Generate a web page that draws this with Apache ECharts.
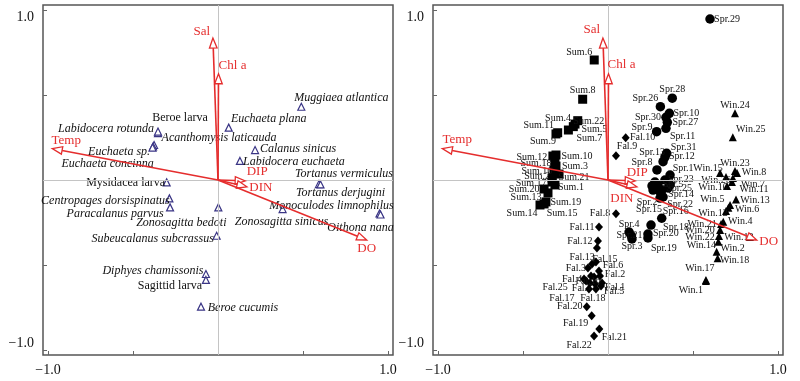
<!DOCTYPE html>
<html><head><meta charset="utf-8">
<script src="https://cdn.jsdelivr.net/npm/echarts@6/dist/echarts.min.js"></script>
<style>html,body{margin:0;padding:0;background:#fff}#c{width:800px;height:381px}</style>
</head><body><div id="c"></div>
<script>
// ---------- environmental vectors ----------
const envNames = ['Sal', 'Chl a', 'Temp', 'DIP', 'DIN', 'DO'];
const envX = [-0.03, 0.003, -0.975, 0.16, 0.17, 0.875];
const envY = [0.835, 0.625, 0.185, -0.005, -0.04, -0.353];

// ---------- species (left panel) ----------
const speciesNames = ['Muggiaea atlantica','Euchaeta plana','Beroe larva','Labidocera rotunda','Acanthomysis laticauda','Euchaeta sp.','Euchaeta concinna','Calanus sinicus','Labidocera euchaeta','Tortanus vermiculus','Tortanus derjugini','Mysidacea larva','Centropages dorsispinatus','Paracalanus parvus','Zonosagitta bedoti','Zonosagitta sinicus','Monoculodes limnophilus','Oithona nana','Subeucalanus subcrassus','Diphyes chamissonis','Sagittid larva','Beroe cucumis'];
const speciesX = [0.49, 0.063, -0.353, -0.353, -0.376, -0.382, -0.385, 0.218, 0.129, 0.594, 0.603, -0.302, -0.286, -0.282, 0.002, 0.38, 0.95, 0.956, -0.008, -0.071, -0.071, -0.1];
const speciesY = [0.431, 0.308, 0.276, 0.285, 0.206, 0.197, 0.191, 0.176, 0.112, -0.024, -0.026, -0.014, -0.108, -0.161, -0.161, -0.171, -0.197, -0.203, -0.328, -0.553, -0.588, -0.745];

// ---------- samples (right panel) ----------
const sumNames = ['Sum.1','Sum.2','Sum.3','Sum.4','Sum.5','Sum.6','Sum.7','Sum.8','Sum.9','Sum.10','Sum.11','Sum.12','Sum.13','Sum.14','Sum.15','Sum.16','Sum.17','Sum.18','Sum.19','Sum.20','Sum.21','Sum.22'];
const sumX = [-0.312,-0.329,-0.306,-0.194,-0.204,-0.081,-0.233,-0.149,-0.306,-0.306,-0.296,-0.324,-0.353,-0.4,-0.376,-0.318,-0.329,-0.312,-0.365,-0.376,-0.288,-0.178];
const sumY = [-0.029,0.012,0.082,0.329,0.314,0.706,0.294,0.475,0.271,0.147,0.278,0.141,-0.076,-0.147,-0.141,0.059,-0.012,0.1,-0.129,-0.053,0.035,0.349];

const sprNames = ['Spr.1','Spr.2','Spr.3','Spr.4','Spr.5','Spr.6','Spr.7','Spr.8','Spr.9','Spr.10','Spr.11','Spr.12','Spr.13','Spr.14','Spr.15','Spr.16','Spr.17','Spr.18','Spr.19','Spr.20','Spr.21','Spr.22','Spr.23','Spr.24','Spr.25','Spr.26','Spr.27','Spr.28','Spr.29','Spr.30','Spr.31'];
const sprX = [0.365,0.265,0.141,0.124,0.276,0.294,0.259,0.288,0.341,0.361,0.286,0.335,0.324,0.353,0.306,0.316,0.306,0.253,0.235,0.235,0.138,0.324,0.335,0.365,0.318,0.308,0.349,0.378,0.6,0.341,0.345];
const sprY = [0.029,-0.059,-0.347,-0.306,-0.012,-0.029,-0.035,0.059,0.304,0.392,0.284,0.135,0.108,-0.047,-0.106,-0.225,-0.071,-0.265,-0.341,-0.318,-0.329,-0.1,0,-0.029,-0.059,0.431,0.339,0.481,0.947,0.369,0.157];

const falNames = ['Fal.1','Fal.2','Fal.3','Fal.4','Fal.5','Fal.6','Fal.7','Fal.8','Fal.9','Fal.10','Fal.11','Fal.12','Fal.13','Fal.14','Fal.15','Fal.16','Fal.17','Fal.18','Fal.19','Fal.20','Fal.21','Fal.22','Fal.23','Fal.24','Fal.25'];
const falX = [-0.035,-0.047,-0.118,-0.141,-0.041,-0.053,-0.106,0.047,0.047,0.104,-0.053,-0.059,-0.094,-0.065,-0.071,-0.082,-0.112,-0.071,-0.096,-0.125,-0.051,-0.082,-0.1,-0.076,-0.129];
const falY = [-0.606,-0.565,-0.518,-0.582,-0.624,-0.535,-0.606,-0.198,0.143,0.249,-0.276,-0.359,-0.494,-0.4,-0.482,-0.571,-0.641,-0.641,-0.798,-0.745,-0.876,-0.918,-0.565,-0.612,-0.594];

const winNames = ['Win.1','Win.2','Win.4','Win.5','Win.6','Win.7','Win.8','Win.10','Win.11','Win.12','Win.13','Win.14','Win.15','Win.17','Win.18','Win.19','Win.20','Win.21','Win.22','Win.23','Win.24','Win.25','Win.26'];
const winX = [0.576,0.639,0.678,0.708,0.718,0.735,0.759,0.7,0.729,0.694,0.753,0.649,0.659,0.576,0.645,0.835,0.659,0.665,0.653,0.747,0.747,0.734,0.694];
const winY = [-0.594,-0.422,-0.245,-0.163,-0.147,0.012,0.041,-0.035,-0.012,-0.182,-0.114,-0.363,0.041,-0.588,-0.461,-0.335,-0.294,-0.259,-0.329,0.053,0.392,0.251,0.018];

const tickValues = [-1, -0.5, 0, 0.5, 1];
const labelValues = [-1, 1];

// ---------- label placement (pixel offsets of label centre from its mark) ----------
const speciesLabelOffset = [[40,-9],[40,-9],[22,-15],[-52,-3],[65,-7],[-34,5],[-45,16],[43,-1],[54,1],[25,-10],[20,8],[-41,0],[-64,2],[-55,6],[-37,15],[-1,13],[-48,-8],[-20,13],[-64,3],[-53,-3],[-36,6],[42,1]];
const sumLabelOffset = [[16,2],[-15,-2],[19,0],[-17,-6],[21,3],[-15,-8],[21,8],[0,-9],[-13,7],[21,1],[-19,-7],[-21,1],[-22,4],[-18,8],[18,9],[-17,1],[-21,1],[-19,0],[20,0],[-20,0],[15,3],[11,1]];
const sprLabelOffset = [[13,-7],[-6,12],[0,7],[0,-8],[18,2],null,null,[-15,-8],[-24,-1],[17,0],[26,5],[17,-1],[-11,-9],[13,6],[-11,11],[14,-7],null,[25,2],[16,10],[18,-1],[-2,-1],[17,7],[16,-1],null,[17,-2],[-15,-8],[18,0],[0,-9],[17,0],[-18,0],[17,-6]];
const falLabelOffset = [[13,4],[15,-2],[-12,0],[-12,0],[13,5],[14,-6],[-8,5],[-16,0],[11,-9],[17,0],[-17,0],[-18,0],[-10,-7],null,[9,-3],[-6,4],[-27,9],[-3,9],[-16,8],[-17,0],[15,8],[-15,9],null,null,[-31,6]];
const winLabelOffset = [[-15,9],[16,-3],[17,0],[-16,-8],[17,4],[20,6],[17,-1],[-14,1],[22,7],[-13,2],[19,1],[-17,4],[-12,-5],[-6,-12],[17,2],[-11,0],[-20,0],[-19,0],[-19,1],[0,-8],[0,-8],[18,-8],[-10,3]];
const envLabelOffsetLeft = [[-11,-6],[14,-8],[14,-8],[12,-9],[14,1],[0,9]];
const envLabelOffsetRight = [[-11,-8],[13,-9],[15,-9],[2,-8],[-15,12],[12,2]];

const RED = '#e52d2d';
const SERIF = '"Liberation Serif", "Times New Roman", serif';

function grid(left) {
  return { left: left, top: 5, width: 350, height: 350, show: true, borderColor: '#555', borderWidth: 1.5, backgroundColor: '#fff' };
}
function xAxis(g) {
  return {
    gridIndex: g, type: 'value', min: -1.0294, max: 1.0294,
    axisLine: { show: false, onZero: false },
    splitLine: { show: false },
    axisTick: { show: true, inside: true, length: 4, customValues: tickValues, lineStyle: { color: '#666' } },
    axisLabel: { customValues: labelValues, margin: 8, fontFamily: SERIF, fontSize: 14, color: '#111',
      formatter: v => (v < 0 ? '\u22121.0' : '1.0') }
  };
}
function yAxis(g) {
  return {
    gridIndex: g, type: 'value', min: -1.0294, max: 1.0294,
    axisLine: { show: false, onZero: false },
    splitLine: { show: false },
    axisTick: { show: true, inside: true, length: 4, customValues: tickValues, lineStyle: { color: '#666' } },
    axisLabel: { customValues: labelValues, margin: 9, color: '#111',
      formatter: v => (v < 0 ? '{b|\u22121.0}' : '{t|1.0}'),
      rich: {
        t: { fontFamily: SERIF, fontSize: 14, color: '#111', padding: [14, 0, 0, 0] },
        b: { fontFamily: SERIF, fontSize: 14, color: '#111', padding: [0, 0, 14, 0] }
      } }
  };
}
function zeroLines() {
  return { silent: true, symbol: 'none', animation: false, label: { show: false },
    lineStyle: { color: '#c4c4c4', width: 1, type: 'solid' },
    data: [{ xAxis: 0 }, { yAxis: 0 }] };
}
function pts(names, xs, ys, offs, extra) {
  return names.map((n, i) => {
    const o = offs[i];
    const item = { name: n, value: [xs[i], ys[i]] };
    item.label = o ? Object.assign({ offset: o }, extra ? extra(n) : {}) : { show: false };
    return item;
  });
}
function arrowSeries(g, offs) {
  return {
    type: 'custom', xAxisIndex: g, yAxisIndex: g, z: 10, silent: true, animation: false, clip: false,
    data: envNames.map((n, i) => [envX[i], envY[i]]),
    renderItem: function (params, api) {
      const i = params.dataIndex;
      const o = api.coord([0, 0]);
      const t = api.coord([api.value(0), api.value(1)]);
      const dx = t[0] - o[0], dy = t[1] - o[1];
      const L = Math.hypot(dx, dy) || 1;
      const ux = dx / L, uy = dy / L;
      const hl = 10, hw = 3.8;
      const bx = t[0] - ux * hl, by = t[1] - uy * hl;
      const px = -uy, py = ux;
      const off = offs[i];
      return { type: 'group', children: [
        { type: 'line', shape: { x1: o[0], y1: o[1], x2: bx, y2: by }, style: { stroke: RED, lineWidth: 1.6 } },
        { type: 'polygon', shape: { points: [[t[0], t[1]], [bx + px * hw, by + py * hw], [bx - px * hw, by - py * hw]] },
          style: { stroke: RED, fill: '#fff', lineWidth: 1.3 } },
        { type: 'text', x: t[0] + off[0], y: t[1] + off[1],
          style: { text: envNames[i], fill: RED, fontFamily: SERIF, fontSize: 13, align: 'center', verticalAlign: 'middle' } }
      ] };
    }
  };
}
const sampleLabel = { show: true, position: 'inside', formatter: '{b}', color: '#111', fontFamily: SERIF, fontSize: 10 };
const blackItem = { color: '#000', opacity: 1 };

const chart = echarts.init(document.getElementById('c'), null, { renderer: 'canvas' });
chart.setOption({
  animation: false,
  backgroundColor: '#fff',
  grid: [grid(43), grid(433)],
  xAxis: [xAxis(0), xAxis(1)],
  yAxis: [yAxis(0), yAxis(1)],
  series: [
    {
      type: 'scatter', xAxisIndex: 0, yAxisIndex: 0, symbol: 'triangle', symbolSize: 7, z: 3,
      itemStyle: { color: '#fff', borderColor: '#3a3585', borderWidth: 1.2, opacity: 1 },
      label: { show: true, position: 'inside', formatter: '{b}', color: '#111', fontFamily: SERIF, fontSize: 12 },
      markLine: zeroLines(),
      data: pts(speciesNames, speciesX, speciesY, speciesLabelOffset,
        n => ({ fontStyle: /larva$/.test(n) ? 'normal' : 'italic' }))
    },
    arrowSeries(0, envLabelOffsetLeft),
    {
      type: 'scatter', xAxisIndex: 1, yAxisIndex: 1, symbol: 'rect', symbolSize: 9, z: 3,
      itemStyle: blackItem, label: sampleLabel, markLine: zeroLines(),
      data: pts(sumNames, sumX, sumY, sumLabelOffset)
    },
    {
      type: 'scatter', xAxisIndex: 1, yAxisIndex: 1, symbol: 'circle', symbolSize: 9.5, z: 3,
      itemStyle: blackItem, label: sampleLabel,
      data: pts(sprNames, sprX, sprY, sprLabelOffset)
    },
    {
      type: 'scatter', xAxisIndex: 1, yAxisIndex: 1, symbol: 'diamond', symbolSize: [8, 9], z: 3,
      itemStyle: blackItem, label: sampleLabel,
      data: pts(falNames, falX, falY, falLabelOffset)
    },
    {
      type: 'scatter', xAxisIndex: 1, yAxisIndex: 1, symbol: 'triangle', symbolSize: 8, z: 3,
      itemStyle: blackItem, label: sampleLabel,
      data: pts(winNames, winX, winY, winLabelOffset)
    },
    arrowSeries(1, envLabelOffsetRight)
  ]
});
</script>
</body></html>
